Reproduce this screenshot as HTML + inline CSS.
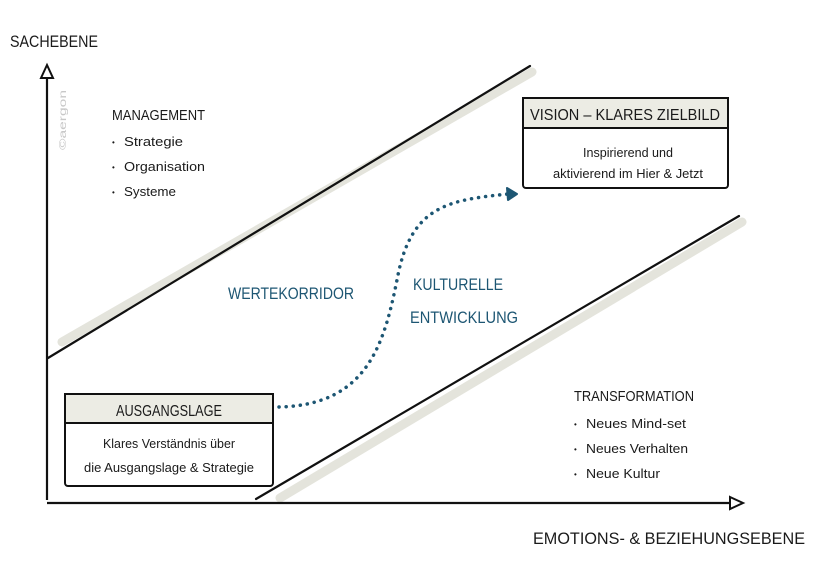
<!DOCTYPE html>
<html><head><meta charset="utf-8"><style>
body{margin:0;background:#fff}
svg{display:block}
text{font-family:"Liberation Sans",sans-serif;fill:#1a1a1a}
</style></head><body>
<svg width="817" height="576" viewBox="0 0 817 576" xmlns="http://www.w3.org/2000/svg">
<line x1="62" y1="342" x2="532" y2="72" stroke="#e4e4dc" stroke-width="9" stroke-linecap="round"/>
<line x1="280" y1="498" x2="742" y2="222" stroke="#e4e4dc" stroke-width="9" stroke-linecap="round"/>
<path d="M47,500 L47,70" stroke="#111" stroke-width="2.2" fill="none"/>
<path d="M41,78 L47,65 L53,78 Z" stroke="#111" stroke-width="2" fill="#fff"/>
<path d="M47,503 L735,503" stroke="#111" stroke-width="2.2" fill="none"/>
<path d="M730,497 L743,503 L730,509 Z" stroke="#111" stroke-width="2" fill="#fff"/>
<line x1="48" y1="358" x2="530" y2="66" stroke="#111" stroke-width="2.2" stroke-linecap="round"/>
<line x1="256" y1="499" x2="739" y2="216" stroke="#111" stroke-width="2.2" stroke-linecap="round"/>
<path d="M279,407 C370,405 385,340 398,275 C412,205 450,200 508,194" stroke="#1d5673" stroke-width="3.5" stroke-dasharray="0.1 7" stroke-linecap="round" fill="none"/>
<path d="M507,188 L517,194 L508,200 Z" fill="#1d5673" stroke="#1d5673" stroke-width="2" stroke-linejoin="round"/>
<rect x="65" y="394" width="208" height="92" rx="3" fill="#fff" stroke="#111" stroke-width="2"/>
<rect x="65" y="394" width="208" height="29" fill="#ececE4" stroke="#111" stroke-width="2"/>
<text x="169" y="416" text-anchor="middle" font-size="16" textLength="106" lengthAdjust="spacingAndGlyphs">AUSGANGSLAGE</text>
<text x="169" y="448" text-anchor="middle" font-size="13" textLength="132" lengthAdjust="spacingAndGlyphs">Klares Verständnis über</text>
<text x="169" y="472" text-anchor="middle" font-size="13" textLength="170" lengthAdjust="spacingAndGlyphs">die Ausgangslage &amp; Strategie</text>
<rect x="523" y="98" width="205" height="90" rx="3" fill="#fff" stroke="#111" stroke-width="2"/>
<rect x="523" y="98" width="205" height="30" fill="#ececE4" stroke="#111" stroke-width="2"/>
<text x="625" y="120" text-anchor="middle" font-size="16" textLength="190" lengthAdjust="spacingAndGlyphs">VISION – KLARES ZIELBILD</text>
<text x="628" y="157" text-anchor="middle" font-size="13" textLength="90" lengthAdjust="spacingAndGlyphs">Inspirierend und</text>
<text x="628" y="178" text-anchor="middle" font-size="13" textLength="150" lengthAdjust="spacingAndGlyphs">aktivierend im Hier &amp; Jetzt</text>
<g font-size="17">
<text x="228" y="299" textLength="126" lengthAdjust="spacingAndGlyphs" style="fill:#1d5673">WERTEKORRIDOR</text>
<text x="413" y="290" textLength="90" lengthAdjust="spacingAndGlyphs" style="fill:#1d5673">KULTURELLE</text>
<text x="410" y="323" textLength="108" lengthAdjust="spacingAndGlyphs" style="fill:#1d5673">ENTWICKLUNG</text>
</g>
<text x="10" y="47" font-size="17" textLength="88" lengthAdjust="spacingAndGlyphs">SACHEBENE</text>
<text x="533" y="544" font-size="17" textLength="272" lengthAdjust="spacingAndGlyphs">EMOTIONS- &amp; BEZIEHUNGSEBENE</text>
<text x="112" y="120" font-size="15" textLength="93" lengthAdjust="spacingAndGlyphs">MANAGEMENT</text>
<g font-size="13">
<text x="112" y="145" font-size="8">•</text><text x="124" y="146" textLength="59" lengthAdjust="spacingAndGlyphs">Strategie</text>
<text x="112" y="170" font-size="8">•</text><text x="124" y="171" textLength="81" lengthAdjust="spacingAndGlyphs">Organisation</text>
<text x="112" y="195" font-size="8">•</text><text x="124" y="196" textLength="52" lengthAdjust="spacingAndGlyphs">Systeme</text>
</g>
<text x="574" y="401" font-size="15" textLength="120" lengthAdjust="spacingAndGlyphs">TRANSFORMATION</text>
<g font-size="13">
<text x="574" y="427" font-size="8">•</text><text x="586" y="428" textLength="100" lengthAdjust="spacingAndGlyphs">Neues Mind-set</text>
<text x="574" y="452" font-size="8">•</text><text x="586" y="453" textLength="102" lengthAdjust="spacingAndGlyphs">Neues Verhalten</text>
<text x="574" y="477" font-size="8">•</text><text x="586" y="478" textLength="74" lengthAdjust="spacingAndGlyphs">Neue Kultur</text>
</g>
<text x="0" y="0" font-size="10" transform="translate(66,150) rotate(-90)" textLength="60" lengthAdjust="spacingAndGlyphs" style="fill:#c8c8c8">©aergon</text>
</svg>
</body></html>
